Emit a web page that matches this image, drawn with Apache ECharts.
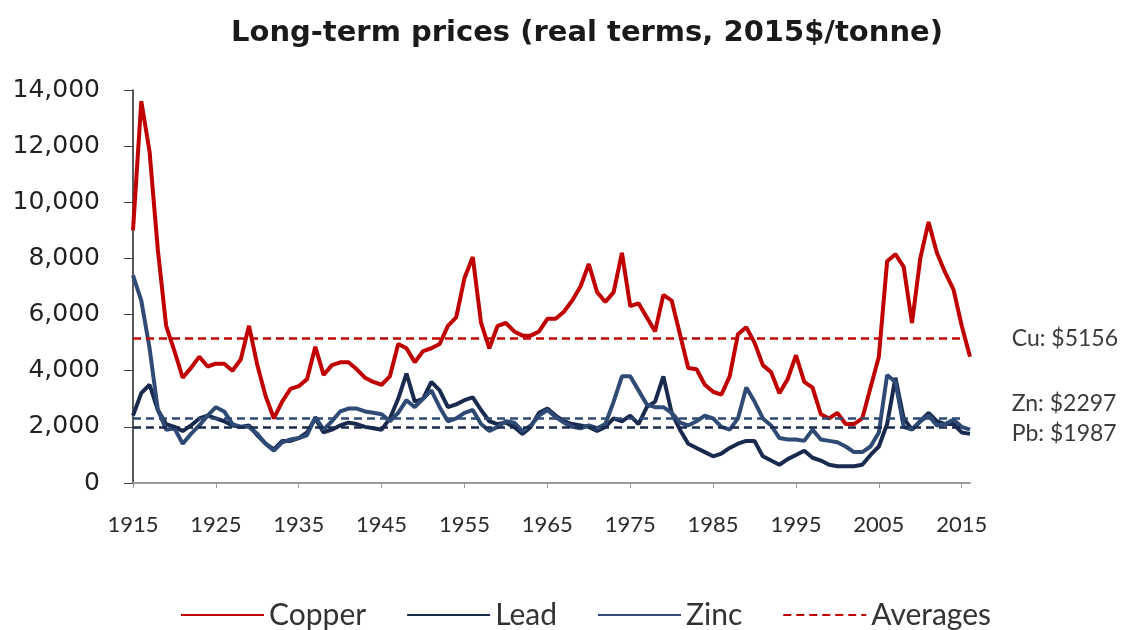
<!DOCTYPE html>
<html>
<head>
<meta charset="utf-8">
<script src="https://cdn.jsdelivr.net/npm/echarts@6/dist/echarts.min.js"></script>
<style>
  html, body { margin: 0; padding: 0; background: #fff; }
  #main { width: 1123px; height: 630px; }
</style>
</head>
<body>
<div id="main"></div>
<script>
// years 1915..2016
var years = [];
for (var y = 1915; y <= 2016; y++) years.push(String(y));

var copper = [
  9000, 13600, 11800, 8300, 5600, 4700, 3750, 4100, 4500, 4150,
  4250, 4250, 4000, 4400, 5600, 4200, 3100, 2300, 2900, 3350,
  3450, 3700, 4850, 3850, 4200, 4300, 4300, 4050, 3750, 3600,
  3500, 3800, 4950, 4800, 4300, 4700, 4800, 4950, 5600, 5900,
  7300, 8050, 5700, 4800, 5600, 5700, 5400, 5250, 5250, 5400,
  5850, 5850, 6100, 6500, 7000, 7800, 6800, 6450, 6800, 8200,
  6300, 6400, 5900, 5400, 6700, 6500, 5300, 4100, 4050, 3500,
  3250, 3150, 3800, 5300, 5550, 5000, 4200, 3950, 3200, 3700,
  4550, 3600, 3400, 2450, 2300, 2500, 2100, 2100, 2300, 3400,
  4500, 7900, 8150, 7700, 5700, 8000, 9300, 8200, 7500, 6900,
  5600, 4500
];

var lead = [
  2400, 3200, 3500, 2600, 2100, 2000, 1850, 2050, 2300, 2400,
  2300, 2200, 2050, 2000, 2050, 1700, 1400, 1200, 1500, 1500,
  1600, 1800, 2300, 1800, 1900, 2050, 2150, 2100, 2000, 1950,
  1900, 2300, 3000, 3900, 2900, 3000, 3600, 3300, 2700, 2800,
  2950, 3050, 2600, 2200, 2100, 2150, 2000, 1750, 2000, 2500,
  2650, 2400, 2200, 2100, 2050, 2000, 1850, 2000, 2300, 2200,
  2400, 2100, 2700, 2900, 3800, 2500, 1900, 1400, 1250, 1100,
  950, 1050, 1250, 1400, 1500, 1500, 950, 800, 650, 850,
  1000, 1150, 900, 800, 650, 600, 600, 600, 650, 1000,
  1300, 2100, 3750, 2300, 1900, 2200, 2500, 2200, 2100, 2100,
  1800, 1750
];

var zinc = [
  7400, 6500, 4800, 2600, 1900, 1950, 1400, 1750, 2050, 2400,
  2700, 2550, 2100, 2000, 2000, 1750, 1400, 1150, 1450, 1550,
  1600, 1700, 2350, 1900, 2200, 2550, 2650, 2650, 2550, 2500,
  2450, 2200, 2500, 2950, 2700, 3000, 3300, 2700, 2200, 2300,
  2500, 2600, 2100, 1850, 2000, 2200, 2150, 1850, 2050, 2400,
  2600, 2350, 2150, 2000, 1950, 2050, 1950, 2100, 2900, 3800,
  3800, 3300, 2800, 2700, 2700, 2500, 2150, 2050, 2200, 2400,
  2300, 2000, 1900, 2300, 3400, 2900, 2300, 2050, 1600, 1550,
  1550, 1500, 1900, 1550, 1500, 1450, 1300, 1100, 1100, 1300,
  1800, 3850, 3600, 2000, 1900, 2200, 2400, 2050, 2100, 2250,
  2000, 1900
];

// long-term averages
var avgNames = ['Cu', 'Zn', 'Pb'];
var avgValues = [5156, 2297, 1987];

var RED = '#c00000';
var LEAD = '#1a2a4f';
var ZINC = '#2e4a75';

var myChart = echarts.init(document.getElementById('main'));

var avgColors = [RED, ZINC, LEAD];
var avgLines = avgValues.map(function (v, i) {
    return [
        { coord: ['1915', v], lineStyle: { color: avgColors[i], type: [8, 5], width: 2.5 } },
        { coord: ['2015', v] }
    ];
});

var option = {
    animation: false,
    title: {
        text: 'Long-term prices (real terms, 2015$/tonne)',
        left: 226,
        top: 14,
        textStyle: {
            fontFamily: 'DejaVu Sans',
            fontWeight: 'bold',
            fontSize: 29,
            color: '#1a1a1a'
        }
    },
    grid: {
        left: 133,
        right: 153,
        top: 90,
        bottom: 147
    },
    legend: {
        left: 175,
        top: 595,
        itemWidth: 83,
        itemHeight: 14,
        itemGap: 40,
        itemStyle: { opacity: 0 },
        data: ['Copper', 'Lead', 'Zinc', 'Averages'],
        textStyle: {
            fontFamily: 'Lato',
            fontSize: 30,
            color: '#333'
        }
    },
    xAxis: {
        type: 'category',
        data: years,
        boundaryGap: false,
        axisLine: { lineStyle: { color: '#9a9a9a', width: 2 } },
        axisTick: { interval: 9, length: 5, lineStyle: { color: '#9a9a9a' } },
        axisLabel: {
            interval: 9,
            margin: 31,
            fontFamily: 'Lato',
            fontSize: 22,
            color: '#2a2a2a'
        },
        splitLine: { show: false }
    },
    yAxis: {
        type: 'value',
        min: 0,
        max: 14000,
        interval: 2000,
        axisLine: { show: true, lineStyle: { color: '#222', width: 1.5 } },
        axisTick: { show: true, length: 9, lineStyle: { color: '#444' } },
        axisLabel: {
            margin: 33,
            fontFamily: 'DejaVu Sans',
            fontSize: 25,
            color: '#222',
            formatter: function (v) { return v.toLocaleString('en-US'); }
        },
        splitLine: { show: false }
    },
    series: [
        {
            name: 'Copper',
            type: 'line',
            data: copper,
            symbol: 'none',
            lineStyle: { color: RED, width: 4 },
            itemStyle: { color: RED }
        },
        {
            name: 'Lead',
            type: 'line',
            data: lead,
            symbol: 'none',
            lineStyle: { color: LEAD, width: 4 },
            itemStyle: { color: LEAD }
        },
        {
            name: 'Zinc',
            type: 'line',
            data: zinc,
            symbol: 'none',
            lineStyle: { color: ZINC, width: 4 },
            itemStyle: { color: ZINC }
        },
        {
            name: 'Averages',
            type: 'line',
            data: [],
            symbol: 'none',
            lineStyle: { color: RED, width: 2.5, type: [8, 5] },
            itemStyle: { color: RED },
            markLine: {
                silent: true,
                symbol: ['none', 'none'],
                label: { show: false },
                data: avgLines
            }
        }
    ]
};

myChart.setOption(option);

// average labels to the right of the plot, placed from the axis scales
var labelShift = [0, -15, 6];
var xEnd = myChart.convertToPixel({ xAxisIndex: 0 }, '2015');
myChart.setOption({
    graphic: avgValues.map(function (v, i) {
        return {
            type: 'text',
            x: xEnd + 50,
            y: myChart.convertToPixel({ yAxisIndex: 0 }, v) + labelShift[i],
            style: {
                text: avgNames[i] + ': $' + v,
                fontFamily: 'Lato',
                fontSize: 23,
                fill: '#3a3a3a',
                textAlign: 'left',
                textVerticalAlign: 'middle'
            }
        };
    })
});
</script>
</body>
</html>
